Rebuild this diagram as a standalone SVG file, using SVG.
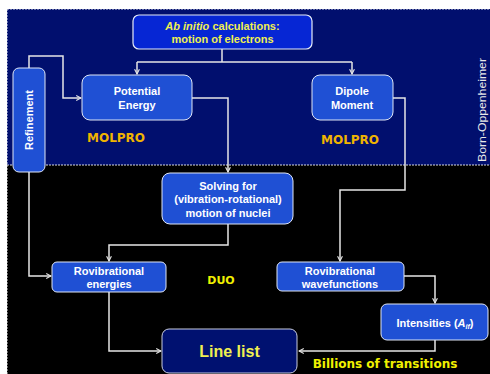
<svg xmlns="http://www.w3.org/2000/svg" width="490" height="374" viewBox="0 0 490 374">
<style>
.box{fill:#1f50d4;stroke:#dfe6f5;stroke-width:1}
.bt{fill:#ffffff;font-family:"Liberation Sans",Arial,sans-serif;font-weight:bold;font-size:11px;text-anchor:middle}
.yl{fill:#f0f050;font-family:"Liberation Sans",Arial,sans-serif;font-weight:bold;text-anchor:middle}
.gold{fill:#f0b400;font-family:"DejaVu Sans",Verdana,sans-serif;font-weight:bold;font-size:12px;text-anchor:middle}
.yel{fill:#f0f000;font-family:"DejaVu Sans",Verdana,sans-serif;font-weight:bold;text-anchor:middle}
.ln{fill:none;stroke:#e6e6e6;stroke-width:1.5}
</style>
<defs>
<marker id="ah" viewBox="0 0 10 10" refX="9" refY="5" markerWidth="6" markerHeight="6" orient="auto" markerUnits="userSpaceOnUse">
<path d="M1,1 L9,5 L1,9" fill="none" stroke="#e6e6e6" stroke-width="1.8"/>
</marker>
</defs>
<rect x="0" y="0" width="490" height="374" fill="#ffffff"/>
<rect x="7" y="9" width="483" height="156" fill="#010f6e"/>
<rect x="7" y="165" width="483" height="209" fill="#000000"/>
<path d="M7,9 H490 M7,9 V374 M7,165 H490" fill="none" stroke="#ffffff" stroke-width="1" stroke-dasharray="2,1" opacity="0.85"/>
<text x="486" y="110" transform="rotate(-90 486 110)" fill="#e8e8e8" font-family="Liberation Sans,Arial,sans-serif" font-size="11.5" text-anchor="middle" textLength="104" lengthAdjust="spacingAndGlyphs">Born-Oppenheimer</text>

<g id="connectors">
<path class="ln" d="M222,49 V62"/>
<path class="ln" d="M137,62 H352"/>
<path class="ln" d="M137,62 V74" marker-end="url(#ah)"/>
<path class="ln" d="M352,62 V74" marker-end="url(#ah)"/>
<path class="ln" d="M29,68 V56 H63 V98 H81" marker-end="url(#ah)"/>
<path class="ln" d="M192,98 H228 V172" marker-end="url(#ah)"/>
<path class="ln" d="M393,98 H405 V190 H340 V261" marker-end="url(#ah)"/>
<path class="ln" d="M228,224 V245 H109 V261" marker-end="url(#ah)"/>
<path class="ln" d="M29,172 V276 H51" marker-end="url(#ah)"/>
<path class="ln" d="M404,276 H435 V303" marker-end="url(#ah)"/>
<path class="ln" d="M435,340 V351 H299" marker-end="url(#ah)"/>
<path class="ln" d="M109,292 V351 H161" marker-end="url(#ah)"/>
</g>

<g id="abinitio">
<rect x="133" y="15" width="179" height="34" rx="6" fill="#0626d4" stroke="#e6ecf8" stroke-width="1.2"/>
<text class="yl" font-size="11" x="222.500" y="30"><tspan font-style="italic">Ab initio</tspan> calculations:</text>
<text class="yl" font-size="11" x="222.500" y="43">motion of electrons</text>
</g>

<g id="potential">
<rect class="box" x="82" y="75" width="110" height="45" rx="8"/>
<text class="bt" x="137" y="95">Potential</text>
<text class="bt" x="137" y="109">Energy</text>
</g>

<g id="dipole">
<rect class="box" x="312" y="75" width="81" height="45" rx="8"/>
<text class="bt" x="352" y="95">Dipole</text>
<text class="bt" x="352" y="109">Moment</text>
</g>

<g id="refinement">
<rect class="box" x="13" y="68" width="32" height="104" rx="6"/>
<text class="bt" x="29" y="120" transform="rotate(-90 29 120)" dy="4">Refinement</text>
</g>

<text class="gold" x="116" y="142">MOLPRO</text>
<text class="gold" x="350" y="144">MOLPRO</text>

<g id="solving">
<rect class="box" x="162" y="173" width="131" height="51" rx="8" stroke="none"/>
<text class="bt" x="228" y="190">Solving for</text>
<text class="bt" x="228" y="203">(vibration-rotational)</text>
<text class="bt" x="228" y="217">motion of nuclei</text>
</g>

<g id="rovenergies">
<rect class="box" x="52" y="262" width="114" height="30" rx="5"/>
<text class="bt" x="109" y="275">Rovibrational</text>
<text class="bt" x="109" y="288">energies</text>
</g>

<text class="yel" font-size="11" x="221" y="284">DUO</text>

<g id="rovwave">
<rect class="box" x="277" y="262" width="127" height="29" rx="5" stroke="none"/>
<text class="bt" x="340" y="275">Rovibrational</text>
<text class="bt" x="340" y="288">wavefunctions</text>
</g>

<g id="intensities">
<rect class="box" x="381" y="304" width="107" height="36" rx="6"/>
<text class="bt" x="435" y="327">Intensities (<tspan font-style="italic">A</tspan><tspan font-size="7" dy="2" font-style="italic">if</tspan><tspan dy="-2">)</tspan></text>
</g>

<g id="linelist">
<rect x="162" y="329" width="135" height="44" rx="7" fill="#001170" stroke="#c8cde0" stroke-width="1"/>
<text class="yl" font-size="16" x="229.500" y="357">Line list</text>
</g>

<text class="yel" font-size="12" x="385" y="368">Billions of transitions</text>
</svg>
